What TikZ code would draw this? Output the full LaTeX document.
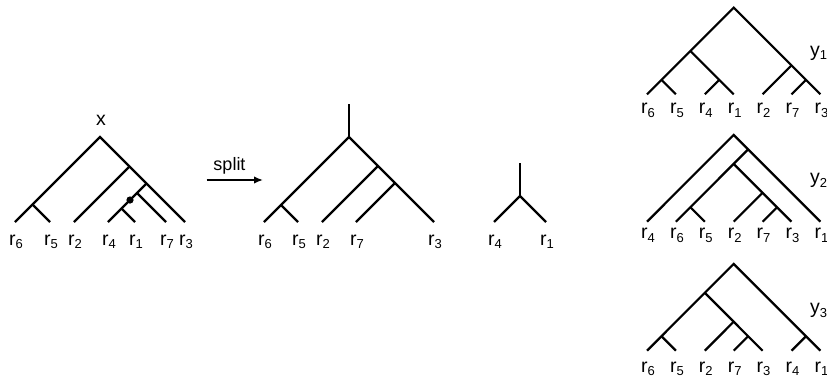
\documentclass[tikz,border=0pt]{standalone}
\usepackage{fontspec}
\setmainfont{Liberation Sans}
\usetikzlibrary{arrows.meta}
\newcommand{\lbl}[2]{#1\raisebox{-3.8pt}{\fontsize{13}{13}\selectfont #2}}
\begin{document}
\begin{tikzpicture}[x=1pt,y=-1pt,
  edge/.style={line width=2.2pt,line join=miter},
  lab/.style={anchor=base,inner sep=0pt,font=\fontsize{19.5}{19.5}\selectfont},
  ylab/.style={anchor=base west,inner sep=0pt,font=\fontsize{19.5}{19.5}\selectfont},
  arr/.style={line width=1.6pt,-{Latex[length=9pt,width=7.5pt]}}]
\clip (0,0) rectangle (827,381);
\useasboundingbox (0,0) rectangle (827,381);

% ---------- tree x ----------
\coordinate (aR) at (100,137);
\foreach \n/\x in {6/15,5/50,2/74,4/108,1/135,7/166,3/185}{
  \coordinate (a\n) at (\x,222);
  \node[lab] (al\n) at (\x+1,245) {\lbl{r}{\n}};}
\coordinate (aN) at (32.5,204.5);
\coordinate (aB) at (129.5,166.5);
\coordinate (aC) at (146.5,183.5);
\coordinate (aD) at (137,193);
\coordinate (aE) at (121.5,208.5);
\draw[edge] (a6) -- (aR) -- (a3);
\draw[edge] (aN) -- (a5);
\draw[edge] (aB) -- (a2);
\draw[edge] (aC) -- (a4);
\draw[edge] (aE) -- (a1);
\draw[edge] (aD) -- (a7);
\fill (130,200) circle (3.6pt);
\node[inner sep=0pt,font=\fontsize{19.5}{19.5}\selectfont] (xlab) at (101,120) {x};

% ---------- arrow ----------
\coordinate (arS) at (206.5,180);
\coordinate (arE) at (263,180);
\draw[arr] (arS) -- (arE);
\node[anchor=base,inner sep=0pt,font=\fontsize{18}{18}\selectfont] (split) at (229.5,170) {split};

% ---------- tree 2 ----------
\coordinate (bT) at (349,104);
\coordinate (bR) at (349,137);
\foreach \n/\x in {6/264,5/298,2/322,7/356,3/434}{
  \coordinate (b\n) at (\x,222);
  \node[lab] (bl\n) at (\x+1,245) {\lbl{r}{\n}};}
\coordinate (bN) at (281,205);
\coordinate (bB) at (378,166);
\coordinate (bC) at (395,183);
\draw[edge] (bT) -- (bR);
\draw[edge] (b6) -- (bR) -- (b3);
\draw[edge] (bN) -- (b5);
\draw[edge] (bB) -- (b2);
\draw[edge] (bC) -- (b7);

% ---------- tree 3 ----------
\coordinate (cT) at (520,163);
\coordinate (cR) at (520,196);
\foreach \n/\x in {4/494,1/546}{
  \coordinate (c\n) at (\x,222);
  \node[lab] (cl\n) at (\x+1,245) {\lbl{r}{\n}};}
\draw[edge] (cT) -- (cR);
\draw[edge] (c4) -- (cR) -- (c1);

% ---------- y1 ----------
\foreach \k/\x/\s in {0/647/6,1/675.9/5,2/704.8/4,3/733.7/1,4/762.6/2,5/791.5/7,6/820.4/3}{
  \coordinate (d\k) at (\x,94.3);
  \node[lab] (dl\k) at (\x+1,113.5) {\lbl{r}{\s}};}
\coordinate (dR) at (733.7,7.6);
\coordinate (dP) at (690.35,50.95);
\coordinate (dN) at (661.45,79.85);
\coordinate (dQ) at (719.25,79.85);
\coordinate (dS) at (791.5,65.4);
\coordinate (dT) at (805.95,79.85);
\draw[edge] (d0) -- (dR) -- (d6);
\draw[edge] (dP) -- (d3);
\draw[edge] (dQ) -- (d2);
\draw[edge] (dN) -- (d1);
\draw[edge] (dS) -- (d4);
\draw[edge] (dT) -- (d5);
\node[ylab] (y1) at (810,56) {\lbl{y}{1}};

% ---------- y2 ----------
\foreach \k/\x/\s in {0/647/4,1/675.9/6,2/704.8/5,3/733.7/2,4/762.6/7,5/791.5/3,6/820.4/1}{
  \coordinate (e\k) at (\x,221.7);
  \node[lab] (el\k) at (\x+1,238.5) {\lbl{r}{\s}};}
\coordinate (eR) at (733.7,134.9);
\coordinate (eN1) at (748.15,149.35);
\coordinate (eX) at (733.7,163.9);
\coordinate (eN) at (690.35,207.25);
\coordinate (eB) at (762.6,192.8);
\coordinate (eC) at (777.05,207.25);
\draw[edge] (e0) -- (eR) -- (e6);
\draw[edge] (eN1) -- (e1);
\draw[edge] (eX) -- (e5);
\draw[edge] (eN) -- (e2);
\draw[edge] (eB) -- (e3);
\draw[edge] (eC) -- (e4);
\node[ylab] (y2) at (810,183.5) {\lbl{y}{2}};

% ---------- y3 ----------
\foreach \k/\x/\s in {0/647/6,1/675.9/5,2/704.8/2,3/733.7/7,4/762.6/3,5/791.5/4,6/820.4/1}{
  \coordinate (f\k) at (\x,350.7);
  \node[lab] (fl\k) at (\x+1,372) {\lbl{r}{\s}};}
\coordinate (fR) at (733.7,263.9);
\coordinate (fY) at (704.8,292.8);
\coordinate (fM) at (733.7,321.7);
\coordinate (fC) at (748.15,336.25);
\coordinate (fN) at (661.45,336.25);
\coordinate (fF) at (805.95,336.25);
\draw[edge] (f0) -- (fR) -- (f6);
\draw[edge] (fY) -- (f4);
\draw[edge] (fM) -- (f2);
\draw[edge] (fC) -- (f3);
\draw[edge] (fN) -- (f1);
\draw[edge] (fF) -- (f5);
\node[ylab] (y3) at (810,313.5) {\lbl{y}{3}};
\end{tikzpicture}
\end{document}
